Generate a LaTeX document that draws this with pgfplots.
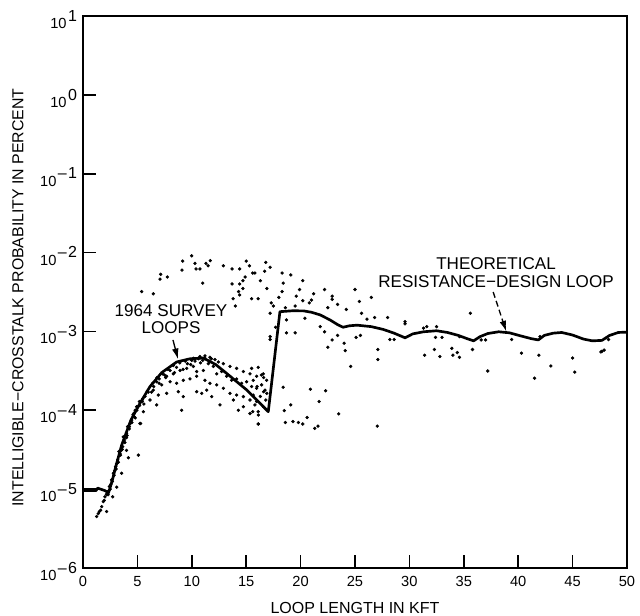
\documentclass[border=0pt]{standalone}
\usepackage{fontspec}
\setmainfont{Liberation Sans}
\usepackage{pgfplots}
\pgfplotsset{compat=1.18}
\usetikzlibrary{arrows.meta}
\newcommand{\tpow}[1]{10\kern0.1em\raisebox{0.5em}{\fontsize{12}{12}\selectfont#1}}
\newcommand{\mn}{–\kern0.08em}
\begin{document}
\begin{tikzpicture}
\begin{axis}[
  scale only axis, width=408pt, height=414pt,
  xmin=0, xmax=50, ymin=1e-6, ymax=10, ymode=log,
  xtick={0,5,...,50},
  ytick={1e-6,1e-5,1e-4,1e-3,1e-2,1e-1,1,10},
  yticklabels={\tpow{\mn6},\tpow{\mn5},\tpow{\mn4},\tpow{\mn3},\tpow{\mn2},\tpow{\mn1},\tpow{0},\tpow{1}},
  yminorticks=false, xminorticks=false,
  tick pos=left, tick align=inside,
  major tick length=10pt,
  axis line style={line width=1.5pt},
  every tick/.style={line width=1.2pt, black},
  /pgf/number format/assume math mode=true,
  tick label style={font=\fontsize{11}{12}\selectfont},
  xticklabel style={yshift=-3pt},
  yticklabel style={xshift=-1pt, yshift=-2.5pt},
  xlabel={LOOP LENGTH IN KFT},
  ylabel={INTELLIGIBLE−CROSSTALK PROBABILITY IN PERCENT},
  xlabel style={font=\fontsize{12}{13}\selectfont, at={(axis description cs:0.5,-0.0725)}, anchor=center},
  ylabel style={font=\fontsize{11.9}{13}\selectfont, at={(axis description cs:-0.1195,0.49)}, anchor=center},
  clip=false,
]
% scattered measured loops
\addplot[only marks, mark=*, mark size=1.05pt, black] table {
x y
9.99 9.1e-3
9.16 7.8e-3
9.1 6.0e-3
10.29 7.3e-3
10.39 6.2e-3
10.75 6.2e-3
11.3 7.3e-3
11.7 7.9e-3
11.5 6.8e-3
12.9 6.8e-3
13.7 6.2e-3
14.4 6.2e-3
15.0 7.8e-3
15.3 6.8e-3
15.6 5.5e-3
15.8 5.5e-3
14.9 4.9e-3
14.7 4.4e-3
14.4 4.0e-3
13.7 4.0e-3
14.7 3.5e-3
14.3 3.2e-3
14.4 2.9e-3
13.8 2.6e-3
14.0 2.1e-3
15.5 2.6e-3
16.1 2.6e-3
16.3 4.4e-3
16.7 5.8e-3
16.8 7.5e-3
16.9 3.5e-3
7.14 5.3e-3
7.75 4.9e-3
7.08 4.6e-3
5.39 3.2e-3
6.46 3.0e-3
11.0 4.1e-3
17.2 6.5e-3
18.3 5.5e-3
19.1 5.2e-3
18.4 4.1e-3
20.2 4.4e-3
18.3 3.2e-3
19.9 3.4e-3
22.2 3.4e-3
25.0 3.4e-3
18.0 2.7e-3
19.6 2.8e-3
20.2 2.45e-3
21.0 2.5e-3
21.2 3.0e-3
22.9 2.8e-3
22.9 2.55e-3
25.4 2.4e-3
26.5 2.7e-3
17.3 2.3e-3
17.5 2.1e-3
17.2 1.7e-3
18.6 2.0e-3
19.5 2.1e-3
20.8 2.3e-3
22.5 2.0e-3
23.4 2.2e-3
24.2 1.9e-3
25.6 1.7e-3
26.1 1.43e-3
26.8 1.5e-3
28.0 1.5e-3
29.6 1.33e-3
29.6 1.25e-3
18.7 1.4e-3
17.7 1.13e-3
18.7 9.6e-4
19.5 9.6e-4
20.4 1.47e-3
21.8 1.15e-3
22.2 9.9e-4
22.9 7.8e-4
23.4 8.9e-4
22.5 6.3e-4
24.0 7.1e-4
24.1 5.7e-4
25.1 8.4e-4
25.5 8.9e-4
27.1 5.9e-4
28.2 7.9e-4
28.6 7.9e-4
27.1 4.4e-4
24.6 3.6e-4
31.3 1.1e-3
31.4 5.0e-4
17.2 8.6e-4
17.2 7.9e-4
18.4 1.96e-4
20.9 1.85e-4
22.3 1.77e-4
21.7 1.29e-4
19.1 1.17e-4
18.5 9.9e-5
23.5 9.0e-5
18.6 7.0e-5
19.3 7.2e-5
19.8 7.0e-5
20.2 6.7e-5
20.6 8.1e-5
21.3 5.9e-5
21.6 6.3e-5
27.05 6.3e-5
16.1 6.7e-5
15.5 3.4e-4
16.1 3.5e-4
16.4 2.8e-4
16.6 2.6e-4
15.65 2.4e-4
16.0 2.0e-4
16.6 1.72e-4
15.65 1.56e-4
16.3 1.5e-4
16.8 1.35e-4
15.8 1.17e-4
16.1 9.6e-5
15.6 9.6e-5
35.6 1.7e-3
31.6 1.15e-3
32.5 1.15e-3
32.4 8.4e-4
33.0 8.4e-4
34.6 8.6e-4
36.6 7.8e-4
37.0 7.8e-4
39.4 7.9e-4
42.0 8.6e-4
48.3 7.9e-4
32.3 5.9e-4
32.8 4.8e-4
33.9 6.1e-4
34.0 5.0e-4
34.4 5.4e-4
34.6 4.7e-4
35.8 5.9e-4
37.2 3.15e-4
40.3 5.3e-4
41.9 5.0e-4
43.0 3.65e-4
41.5 2.55e-4
45.0 4.6e-4
45.2 3.05e-4
47.7 5.6e-4
47.9 5.8e-4
47.6 5.5e-4
10.14 4.56e-4
10.75 4.8e-4
11.21 4.9e-4
11.67 4.7e-4
12.13 4.4e-4
12.44 4.1e-4
12.90 3.9e-4
13.51 3.6e-4
14.12 3.4e-4
14.74 3.1e-4
15.35 2.9e-4
15.96 2.7e-4
16.57 2.9e-4
16.88 2.4e-4
7.69 2.7e-4
8.30 2.9e-4
8.92 3.2e-4
9.53 3.4e-4
10.14 3.6e-4
10.45 3.1e-4
11.06 3.2e-4
11.52 3.9e-4
11.98 3.6e-4
12.29 2.9e-4
12.74 3.1e-4
13.20 2.7e-4
13.66 2.4e-4
14.12 2.5e-4
14.58 2.2e-4
15.04 2.3e-4
15.50 2.0e-4
15.96 1.9e-4
16.42 2.1e-4
16.73 1.8e-4
16.9 1.64e-4
6.77 2.3e-4
7.23 2.1e-4
8.00 2.3e-4
8.61 2.2e-4
9.22 2.4e-4
9.83 2.5e-4
10.45 2.7e-4
11.21 2.4e-4
11.67 2.2e-4
12.29 2.1e-4
12.90 1.9e-4
13.51 1.64e-4
14.12 1.56e-4
14.74 1.49e-4
15.35 1.35e-4
15.96 1.29e-4
16.57 1.11e-4
6.46 1.8e-4
6.92 1.56e-4
7.69 1.64e-4
8.76 1.72e-4
9.22 1.49e-4
10.45 1.72e-4
10.91 1.64e-4
11.37 1.8e-4
11.83 1.49e-4
12.59 1.17e-4
13.82 1.35e-4
14.28 1.0e-4
14.74 1.11e-4
15.35 9.1e-5
16.12 8.7e-5
5.55 9.6e-5
5.24 6.8e-5
9.07 1.0e-4
16.12 6.7e-5
6.16 1.35e-4
6.77 1.17e-4
3.3 3.0e-5
3.7 4.6e-5
4.1 6.2e-5
4.6 8.8e-5
5.0 1.1e-4
5.5 1.4e-4
5.9 1.75e-4
6.4 2.2e-4
6.8 2.6e-4
7.3 2.9e-4
7.8 3.3e-4
8.3 3.7e-4
8.9 4.0e-4
9.4 4.2e-4
10.0 4.3e-4
10.6 4.5e-4
11.2 4.6e-4
11.8 4.5e-4
4.0 4.5e-5
4.8 8.0e-5
5.6 1.2e-4
6.3 1.7e-4
7.0 2.2e-4
7.6 2.6e-4
8.4 3.0e-4
9.2 3.3e-4
9.9 3.8e-4
10.8 4.0e-4
11.6 4.2e-4
2.3 8.5e-6
2.5 1.0e-5
2.7 1.25e-5
2.85 1.5e-5
3.05 1.8e-5
3.25 2.2e-5
3.45 2.7e-5
3.6 3.2e-5
3.85 3.9e-5
4.05 4.8e-5
4.25 5.8e-5
4.5 7.0e-5
4.7 8.3e-5
4.95 1.0e-4
5.2 1.15e-4
5.45 1.3e-4
5.7 1.5e-4
6.0 1.7e-4
6.5 2.0e-4
7.0 2.5e-4
7.5 2.8e-4
8.0 3.2e-4
8.6 3.5e-4
9.6 3.9e-4
10.3 4.2e-4
11.0 4.3e-4
1.26 4.5e-6
1.50 5.2e-6
1.72 6.0e-6
1.87 6.95e-6
2.02 8.0e-6
2.24 9.3e-6
2.42 1.08e-5
2.63 1.31e-5
2.79 1.59e-5
3.0 1.93e-5
3.19 2.35e-5
3.4 2.85e-5
3.65 3.46e-5
3.80 4.2e-5
4.01 5.1e-5
4.26 6.2e-5
4.47 7.5e-5
4.69 9.2e-5
4.93 1.11e-4
5.18 1.29e-4
1.40 4.9e-6
1.62 5.4e-6
1.95 7.2e-6
2.15 8.6e-6
2.55 1.15e-5
2.90 1.7e-5
3.1 2.1e-5
3.5 3.1e-5
3.9 4.6e-5
4.35 6.8e-5
4.8 1.0e-4
5.3 6.8e-5
5.09 2.7e-5
4.17 2.5e-5
4.0 3.1e-5
3.55 1.59e-5
3.1 1.06e-5
2.17 5.2e-6
2.73 8.0e-6
};
% theoretical resistance-design loop
\addplot[black, line width=2.0pt, line join=round] table {
x y
0 9.6e-6
1.2 9.6e-6
1.35 1.03e-5
2.0 9.6e-6
2.35 9.0e-6
2.7 1.3e-5
3.0 1.9e-5
3.55 3.6e-5
4.4 7.5e-5
5.24 1.23e-4
6.16 2.0e-4
7.23 3.0e-4
8.61 4.1e-4
9.83 4.5e-4
11.06 4.6e-4
12.2 3.8e-4
13.2 2.94e-4
15.05 1.81e-4
17.03 9.6e-5
18.1 1.78e-3
19.3 1.83e-3
20.3 1.82e-3
21.0 1.75e-3
21.8 1.62e-3
22.7 1.4e-3
23.4 1.22e-3
23.9 1.13e-3
24.5 1.18e-3
25.2 1.2e-3
26.5 1.15e-3
27.6 1.06e-3
28.6 9.5e-4
29.6 8.3e-4
30.3 9.3e-4
31.3 9.9e-4
32.5 1.02e-3
33.5 9.7e-4
34.5 8.9e-4
35.3 8.1e-4
35.9 7.6e-4
36.5 8.6e-4
37.2 9.4e-4
38.2 9.9e-4
39.2 9.6e-4
40.2 8.8e-4
41.2 8.1e-4
41.85 7.8e-4
42.4 8.9e-4
43.2 9.5e-4
44.0 9.7e-4
45.0 9.0e-4
46.0 8.0e-4
46.8 7.6e-4
47.7 7.7e-4
48.4 8.9e-4
49.2 9.7e-4
50 9.8e-4
};
\node[align=center, font=\fontsize{12.8}{13}\selectfont] at (axis cs:8.09,1.42e-3) {1964 SURVEY\\LOOPS};
\draw[line width=1pt, -{Latex[length=8pt,width=5pt]}] (axis cs:8.27,7.8e-4) -- (axis cs:8.73,4.45e-4);
\node[align=center, font=\fontsize{12.8}{13}\selectfont] at (axis cs:37.96,5.58e-3) {THEORETICAL\\RESISTANCE−DESIGN LOOP};
\draw[line width=1pt, dash pattern=on 4.5pt off 2.5pt, -{Latex[length=8pt,width=5pt]}] (axis cs:37.7,3.16e-3) -- (axis cs:38.9,1.0e-3);
\end{axis}
\pgfresetboundingbox
\useasboundingbox (-62.25pt,-36pt) rectangle (417.75pt,426pt);
\end{tikzpicture}
\end{document}
